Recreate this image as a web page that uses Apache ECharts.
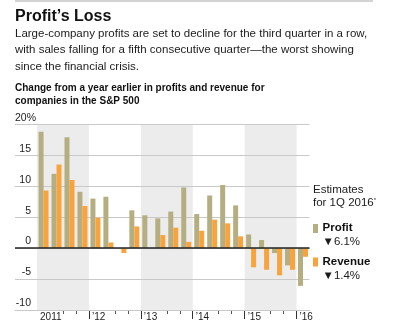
<!DOCTYPE html>
<html><head><meta charset="utf-8">
<script src="https://cdn.jsdelivr.net/npm/echarts@6/dist/echarts.min.js"></script>
<style>html,body{margin:0;padding:0;background:#fff}#c{width:406px;height:331px}</style>
</head><body><div id="c"></div>
<script>
// ---- data ----
const quarters = ['2011Q1','2011Q2','2011Q3','2011Q4','2012Q1','2012Q2','2012Q3','2012Q4',
  '2013Q1','2013Q2','2013Q3','2013Q4','2014Q1','2014Q2','2014Q3','2014Q4',
  '2015Q1','2015Q2','2015Q3','2015Q4','2016Q1'];
const profit  = [18.8, 12.0, 17.9, 9.1, 8.0, 8.3, 0.0, 6.1, 5.3, 4.8, 5.9, 9.8, 5.5, 8.5, 10.2, 6.9, 2.2, 1.3, -0.8, -2.8, -6.1];
const revenue = [9.3, 13.5, 11.0, 6.8, 4.9, 0.9, -0.8, 3.5, 0.0, 2.1, 3.3, 1.0, 2.8, 4.6, 4.0, 1.9, -3.1, -3.5, -4.4, -3.5, -1.4];
const yearLabels = ['2011', '\u201912', '\u201913', '\u201914', '\u201915', '\u201916'];
const shadedYears = ['2011', '2013', '2015'];
const yTickLabels = ['-10', '-5', '0', '5', '10', '15', '20%'];
const estimateProfit = -6.1;
const estimateRevenue = -1.4;

// ---- styles ----
const FONT = "'Liberation Sans', Arial, sans-serif";
const OLIVE = '#b5ae80';
const ORANGE = '#f8a33c';
const TXT = '#1c1c1c';

const chart = echarts.init(document.getElementById('c'), null, {renderer: 'canvas'});

const yearStarts = yearLabels.map((_, i) => i * 4);
const quarterTicks = [];
quarters.forEach((q, i) => { if (i % 4 === 2 || i % 4 === 3) quarterTicks.push(i); });
const bands = shadedYears.map(y => {
  const i = quarters.indexOf(y + 'Q1');
  return [{xAxis: i}, {xAxis: i + 4}];
});

function estText(v) { return '\u25BC' + Math.abs(v).toFixed(1) + '%'; }

const xBase = {type: 'value', min: -1.7, max: 21, position: 'bottom', splitLine: {show: false}};

chart.setOption({
  animation: false,
  grid: {left: 15, right: 96.5, top: 124.3, bottom: 21},
  xAxis: [
    Object.assign({}, xBase, {show: false}),
    Object.assign({}, xBase, {
      axisLine: {show: true, onZero: false, lineStyle: {color: '#bdbdbd', width: 1}},
      axisTick: {show: true, length: 9, lineStyle: {color: '#333'}, customValues: yearStarts.slice(1)},
      axisLabel: {show: true, customValues: yearStarts, formatter: v => yearLabels[Math.round(v / 4)],
        align: 'left', padding: [0, 0, 0, 3], margin: 2, fontSize: 10, color: TXT, fontFamily: FONT}
    }),
    Object.assign({}, xBase, {
      axisLine: {show: false, onZero: false},
      axisTick: {show: true, length: 4, lineStyle: {color: '#555'}, customValues: quarterTicks},
      axisLabel: {show: false}
    })
  ],
  yAxis: {
    type: 'value', min: -10, max: 20, interval: 5, z: 2,
    axisLine: {show: false}, axisTick: {show: false},
    splitLine: {show: true, lineStyle: {color: '#c9c9c9', width: 1}},
    axisLabel: {
      inside: true, margin: 0, verticalAlign: 'bottom', padding: [0, 0, 1, 0],
      fontSize: 10.5, color: TXT, fontFamily: FONT,
      formatter: v => {
        const s = yTickLabels[(v + 10) / 5];
        return s.endsWith('%') ? '{p|' + s + '}' : '{n|' + s + '}';
      },
      rich: {
        n: {width: 16, align: 'right', fontSize: 10.5, color: TXT, fontFamily: FONT},
        p: {fontSize: 10.5, color: TXT, fontFamily: FONT}
      }
    }
  },
  series: [
    {type: 'line', data: [], z: 1, silent: true,
     markArea: {silent: true, itemStyle: {color: '#ececec'}, data: bands}},
    {type: 'bar', name: 'Profit', xAxisIndex: 0, z: 3, barWidth: 5, barGap: '0%',
     itemStyle: {color: OLIVE},
     data: profit.map((v, i) => [i + 0.5, v]),
     markLine: {symbol: 'none', silent: true, label: {show: false},
       lineStyle: {color: '#222', width: 1.5, type: 'solid'}, data: [{yAxis: 0}]}},
    {type: 'bar', name: 'Revenue', xAxisIndex: 0, z: 3, barWidth: 5, barGap: '0%',
     itemStyle: {color: ORANGE},
     data: revenue.map((v, i) => [i + 0.5, v])}
  ],
  graphic: [
    {type: 'rect', shape: {x: 15, y: 0, width: 358, height: 2}, style: {fill: '#d4d4d4'}},
    {type: 'text', x: 15, y: 17, style: {text: 'Profit\u2019s Loss', font: 'bold 16px ' + FONT, fill: '#111', verticalAlign: 'middle'}},
    {type: 'text', x: 15, y: 33.5, style: {text: 'Large-company profits are set to decline for the third quarter in a row,', font: '11.5px ' + FONT, fill: TXT, verticalAlign: 'middle'}},
    {type: 'text', x: 15, y: 50, style: {text: 'with sales falling for a fifth consecutive quarter\u2014the worst showing', font: '11.5px ' + FONT, fill: TXT, verticalAlign: 'middle'}},
    {type: 'text', x: 15, y: 66.5, style: {text: 'since the financial crisis.', font: '11.5px ' + FONT, fill: TXT, verticalAlign: 'middle'}},
    {type: 'text', x: 15, y: 88, style: {text: 'Change from a year earlier in profits and revenue for', font: 'bold 10px ' + FONT, fill: '#111', verticalAlign: 'middle'}},
    {type: 'text', x: 15, y: 101.5, style: {text: 'companies in the S&P 500', font: 'bold 10px ' + FONT, fill: '#111', verticalAlign: 'middle'}},
    {type: 'text', x: 313, y: 189.5, style: {text: 'Estimates', font: '11.5px ' + FONT, fill: TXT, verticalAlign: 'middle'}},
    {type: 'text', x: 313, y: 203, style: {rich: {s: {fontSize: 6, verticalAlign: 'top', fill: TXT}}, text: 'for 1Q 2016{s|*}', font: '11.5px ' + FONT, fill: TXT, verticalAlign: 'middle'}},
    {type: 'rect', shape: {x: 313, y: 224, width: 5, height: 9}, style: {fill: OLIVE}},
    {type: 'text', x: 322.5, y: 227.5, style: {text: 'Profit', font: 'bold 11.5px ' + FONT, fill: '#111', verticalAlign: 'middle'}},
    {type: 'text', x: 322.5, y: 241.5, style: {text: estText(estimateProfit), font: '11.5px ' + FONT, fill: TXT, verticalAlign: 'middle'}},
    {type: 'rect', shape: {x: 313, y: 257.5, width: 5, height: 9}, style: {fill: ORANGE}},
    {type: 'text', x: 322.5, y: 262, style: {text: 'Revenue', font: 'bold 11.5px ' + FONT, fill: '#111', verticalAlign: 'middle'}},
    {type: 'text', x: 322.5, y: 276, style: {text: estText(estimateRevenue), font: '11.5px ' + FONT, fill: TXT, verticalAlign: 'middle'}}
  ]
});
</script>
</body></html>
